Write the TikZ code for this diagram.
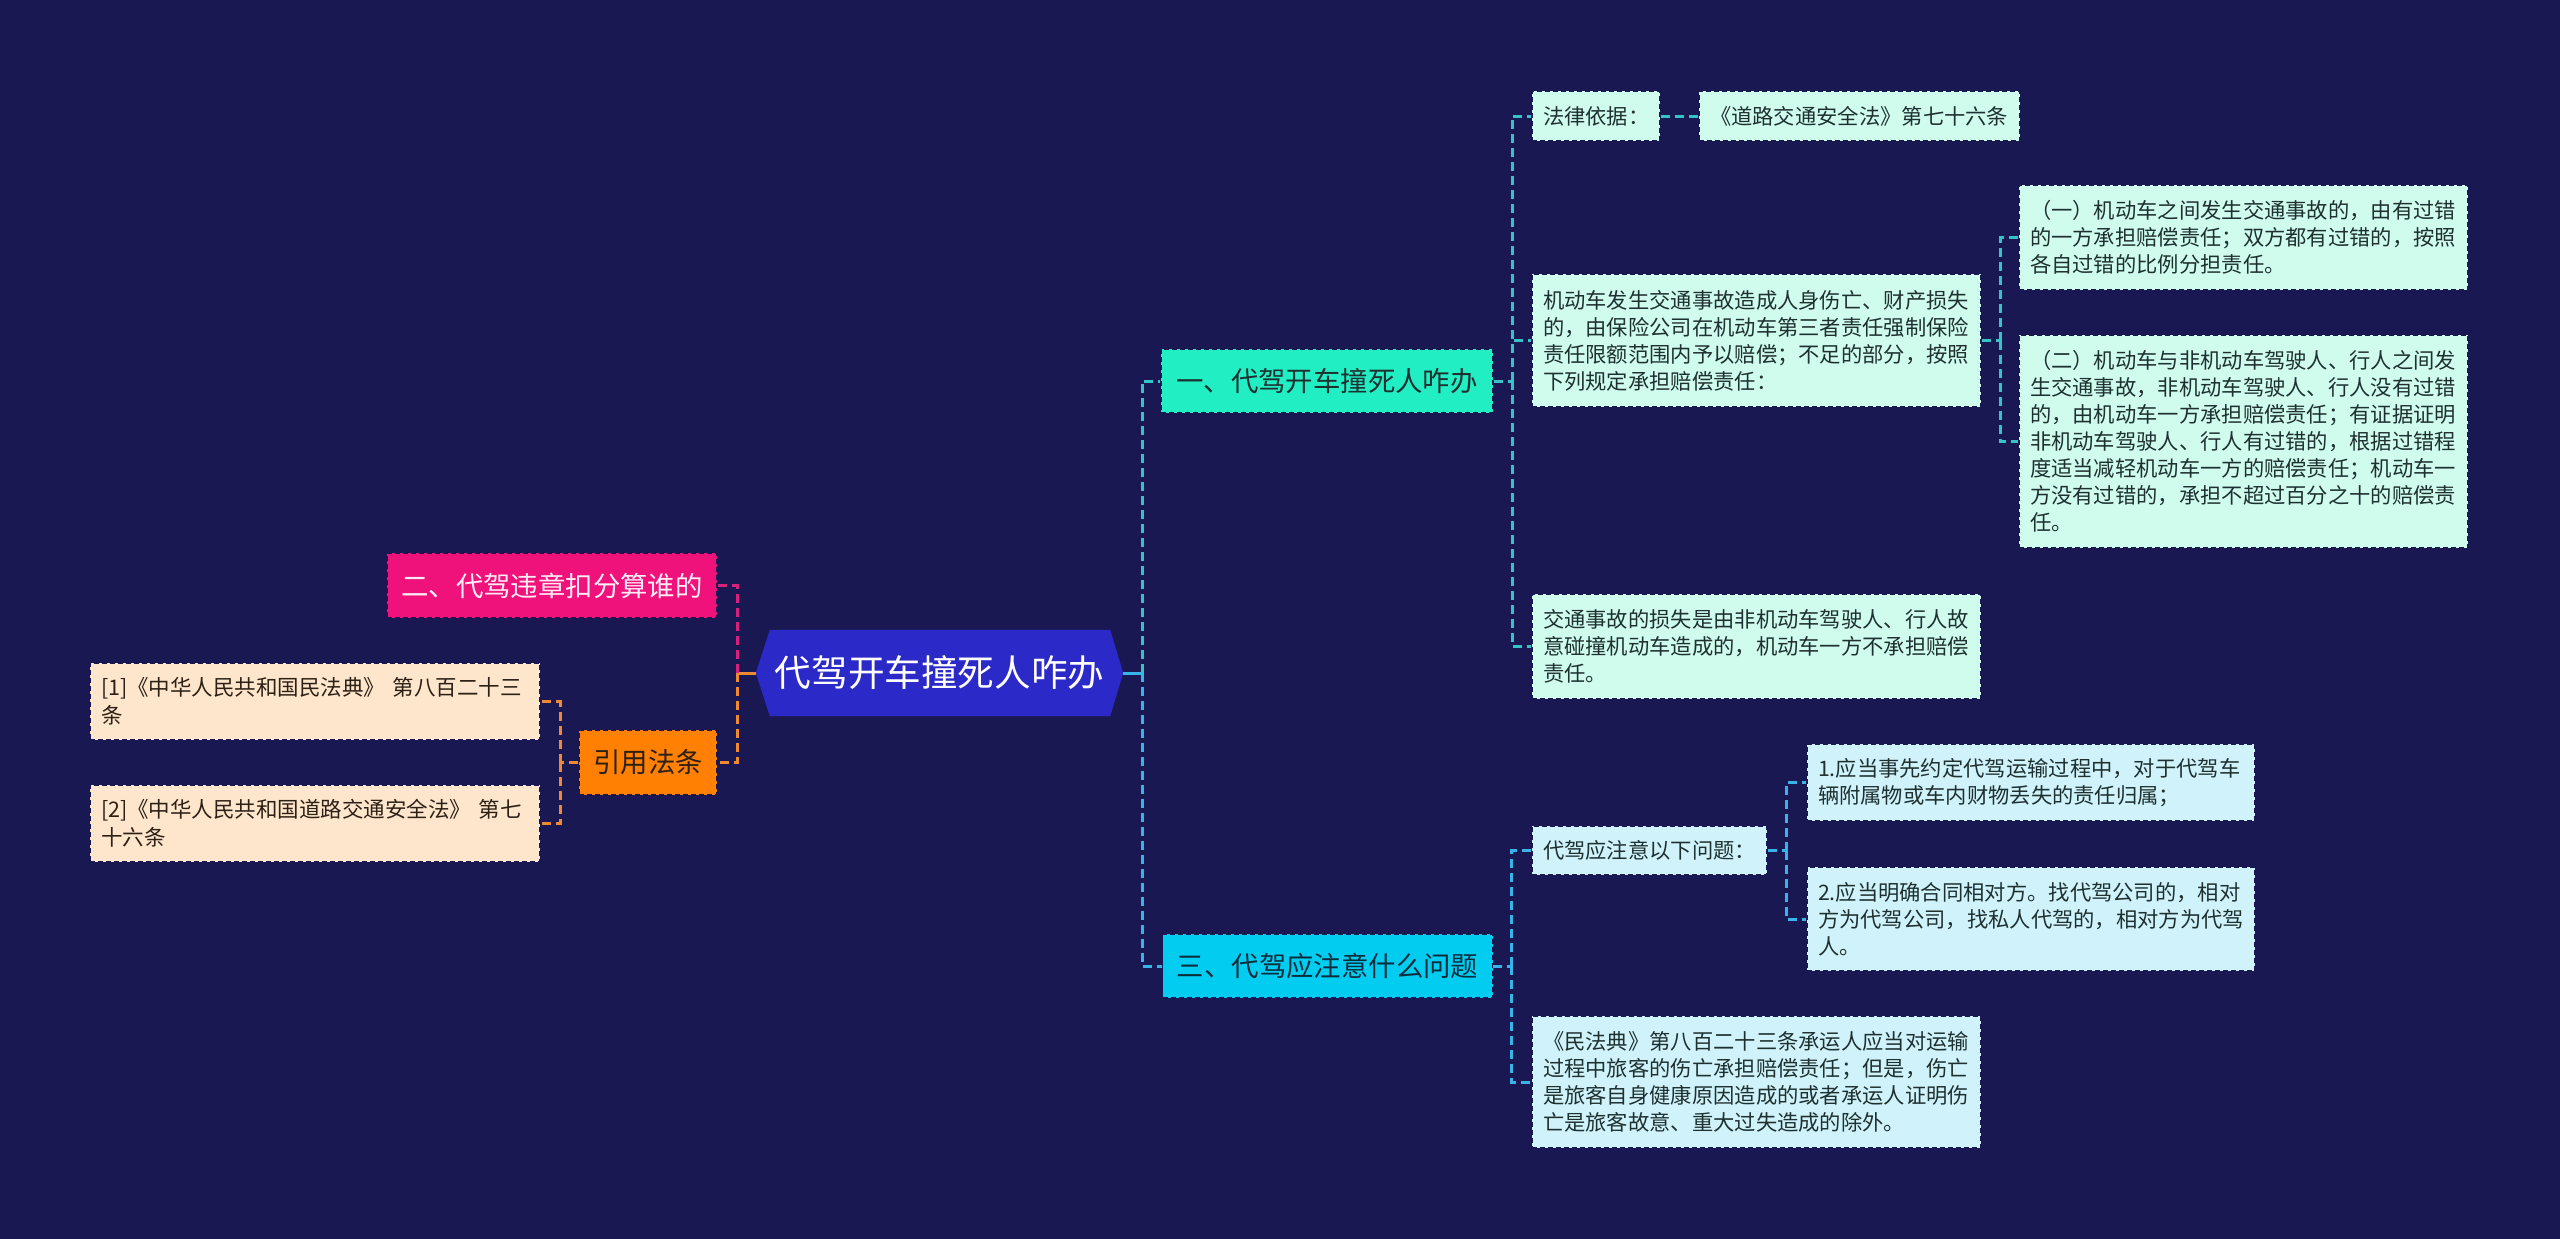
\documentclass[tikz,border=0pt]{standalone}
\usepackage{fontspec}
\setmainfont{Noto Sans CJK SC}
\usetikzlibrary{backgrounds}
\definecolor{bg}{RGB}{26,24,82}
\definecolor{rootfill}{RGB}{43,41,200}
\definecolor{bonefill}{RGB}{34,238,196}
\definecolor{bthreefill}{RGB}{2,204,240}
\definecolor{btwofill}{RGB}{238,18,122}
\definecolor{citefill}{RGB}{255,128,2}
\definecolor{citeleaf}{RGB}{253,230,204}
\definecolor{oneleaf}{RGB}{208,252,238}
\definecolor{threeleaf}{RGB}{208,243,251}
\definecolor{tealline}{RGB}{52,196,200}
\definecolor{cyanline}{RGB}{56,180,232}
\definecolor{pinkline}{RGB}{214,34,124}
\definecolor{orangeline}{RGB}{240,138,50}
\definecolor{darktext}{RGB}{30,48,48}
\definecolor{browntext}{RGB}{45,32,20}
\definecolor{bluetext}{RGB}{12,45,60}
\definecolor{pinktext}{RGB}{255,236,246}
\begin{document}
\begin{tikzpicture}[x=1pt,y=-1pt,
  boxborder/.style={draw=bg, line width=1.4pt, dash pattern=on 5pt off 3pt},
  leaffont/.style={font=\fontsize{21.3}{27}\selectfont},
  leaf/.style={boxborder, leaffont, rectangle, inner xsep=11pt, inner ysep=0pt, align=left, text=darktext, anchor=center},
  oneleafbox/.style={leaf, fill=oneleaf},
  threeleafbox/.style={leaf, fill=threeleaf},
  citeleafbox/.style={leaf, fill=citeleaf, text=browntext, font=\fontsize{21.5}{28}\selectfont},
  branch/.style={boxborder, rectangle, inner sep=0pt, align=center, anchor=center, font=\fontsize{27.4}{32}\selectfont},
  conn/.style={line width=3pt, dash pattern=on 9pt off 5pt},
  tl/.style={conn, draw=tealline},
  cy/.style={conn, draw=cyanline},
  pk/.style={conn, draw=pinkline},
  og/.style={conn, draw=orangeline},
  solidconn/.style={line width=3pt}
]
\useasboundingbox (0,0) rectangle (2560,1239);

% root
\node[anchor=center, inner sep=0pt, minimum width=367pt, minimum height=86pt, text=white,
      font=\fontsize{36.6}{40}\selectfont] (root) at (939.5,673) {代驾开车撞死人咋办};

% branches
\node[branch, fill=bonefill, text=darktext, minimum width=332pt, minimum height=64pt] (b1) at (1327,381) {一、代驾开车撞死人咋办};
\node[branch, fill=bthreefill, text=bluetext, minimum width=330pt, minimum height=64pt] (b3) at (1327.5,966) {三、代驾应注意什么问题};
\node[branch, fill=btwofill, text=pinktext, minimum width=330pt, minimum height=65pt] (b2) at (552,585.5) {二、代驾违章扣分算谁的};
\node[branch, fill=citefill, text=browntext, minimum width=138pt, minimum height=65pt] (cite) at (648,762.5) {引用法条};

% branch 1 leaves
\node[oneleafbox, text width=106pt, minimum height=50pt] (law) at (1596,116) {法律依据：};
\node[oneleafbox, text width=299pt, minimum height=50pt] (lawref) at (1859.5,116) {《道路交通安全法》第七十六条};
\node[oneleafbox, text width=427pt, minimum height=133pt] (jdc) at (1756.5,340.5) {机动车发生交通事故造成人身伤亡、财产损失\\的，由保险公司在机动车第三者责任强制保险\\责任限额范围内予以赔偿；不足的部分，按照\\下列规定承担赔偿责任：};
\node[oneleafbox, text width=427pt, minimum height=105pt] (y1) at (2243.5,237.5) {（一）机动车之间发生交通事故的，由有过错\\的一方承担赔偿责任；双方都有过错的，按照\\各自过错的比例分担责任。};
\node[oneleafbox, text width=427pt, minimum height=213pt] (y2) at (2243.5,441.5) {（二）机动车与非机动车驾驶人、行人之间发\\生交通事故，非机动车驾驶人、行人没有过错\\的，由机动车一方承担赔偿责任；有证据证明\\非机动车驾驶人、行人有过错的，根据过错程\\度适当减轻机动车一方的赔偿责任；机动车一\\方没有过错的，承担不超过百分之十的赔偿责\\任。};
\node[oneleafbox, text width=427pt, minimum height=105pt] (jtsg) at (1756.5,646.5) {交通事故的损失是由非机动车驾驶人、行人故\\意碰撞机动车造成的，机动车一方不承担赔偿\\责任。};

% branch 3 leaves
\node[threeleafbox, text width=213pt, minimum height=49pt] (zy) at (1649.5,850.5) {代驾应注意以下问题：};
\node[threeleafbox, text width=426pt, minimum height=77pt] (n1) at (2031,782.5) {1.应当事先约定代驾运输过程中，对于代驾车\\辆附属物或车内财物丢失的责任归属；};
\node[threeleafbox, text width=426pt, minimum height=104pt] (n2) at (2031,919) {2.应当明确合同相对方。找代驾公司的，相对\\方为代驾公司，找私人代驾的，相对方为代驾\\人。};
\node[threeleafbox, text width=427pt, minimum height=132pt] (mfd) at (1756.5,1082) {《民法典》第八百二十三条承运人应当对运输\\过程中旅客的伤亡承担赔偿责任；但是，伤亡\\是旅客自身健康原因造成的或者承运人证明伤\\亡是旅客故意、重大过失造成的除外。};

% cite leaves
\node[citeleafbox, text width=428pt, minimum height=77pt] (c1) at (315,701.5) {[1]《中华人民共和国民法典》 第八百二十三\\条};
\node[citeleafbox, text width=428pt, minimum height=77pt] (c2) at (315,823.5) {[2]《中华人民共和国道路交通安全法》 第七\\十六条};

% connectors left
\coordinate (jL) at (737,673);
\draw[solidconn, draw=orangeline] (root.west) -- (jL);
\draw[pk] (jL) |- (b2.east);
\draw[og] (jL) |- (cite.east);
\coordinate (jC) at (560,762.5);
\draw[og] (cite.west) -- (jC);
\draw[og] (jC) |- (c1.east);
\draw[og] (jC) |- (c2.east);

% connectors right
\coordinate (jR) at (1142,673);
\draw[solidconn, draw=cyanline] (root.east) -- (jR);
\draw[tl] (jR) |- (b1.west);
\draw[cy] (jR) |- (b3.west);

\coordinate (j1) at (1512,381);
\draw[tl] (b1.east) -- (j1);
\draw[tl] (j1) |- (law.west);
\draw[tl] (j1) |- (jdc.west);
\draw[tl] (j1) |- (jtsg.west);
\draw[tl] (law.east) -- (lawref.west);

\coordinate (j2) at (2000,340.5);
\draw[tl] (jdc.east) -- (j2);
\draw[tl] (j2) |- (y1.west);
\draw[tl] (j2) |- (y2.west);

\coordinate (j3) at (1511,966);
\draw[cy] (b3.east) -- (j3);
\draw[cy] (j3) |- (zy.west);
\draw[cy] (j3) |- (mfd.west);

\coordinate (j4) at (1786,850.5);
\draw[cy] (zy.east) -- (j4);
\draw[cy] (j4) |- (n1.west);
\draw[cy] (j4) |- (n2.west);

\begin{pgfonlayer}{background}
\fill[bg] (0,0) rectangle (2560,1239);
\fill[rootfill] (root.west) -- ([xshift=14pt]root.north west) -- ([xshift=-13pt]root.north east)
  -- (root.east) -- ([xshift=-13pt]root.south east) -- ([xshift=14pt]root.south west) -- cycle;
\end{pgfonlayer}
\end{tikzpicture}
\end{document}
